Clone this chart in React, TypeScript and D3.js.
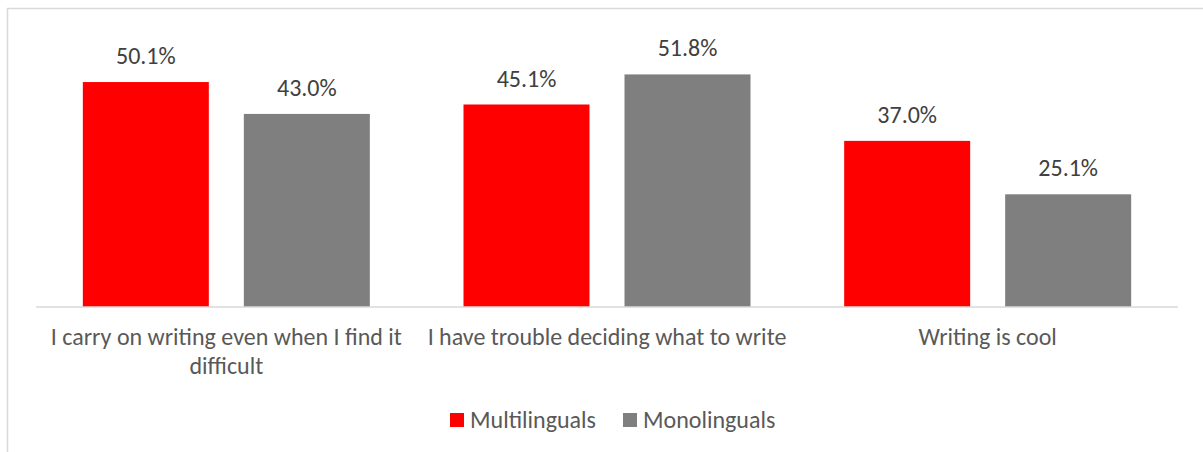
import React, { useEffect, useRef } from "react";
import * as d3 from "d3";

const categories = [
  "I carry on writing even when I find it difficult",
  "I have trouble deciding what to write",
  "Writing is cool",
];
const seriesNames = ["Multilinguals", "Monolinguals"];
const multilinguals = [50.1, 45.1, 37.0];
const monolinguals = [43.0, 51.8, 25.1];
const seriesColors = ["#FF0000", "#7F7F7F"];

const W = 1203;
const H = 452;
const FONT = "Carlito, Lato, sans-serif";
const FS = 24;

export default function App() {
  const ref = useRef<SVGSVGElement>(null);
  useEffect(() => {
    const svg = d3.select(ref.current);
    svg.selectAll("*").remove();

    svg
      .append("rect")
      .attr("x", 7.5)
      .attr("y", 8.5)
      .attr("width", 1200)
      .attr("height", 460)
      .attr("fill", "white")
      .attr("stroke", "#d9d9d9")
      .attr("stroke-width", 1.5);

    const x0 = d3.scaleBand().domain(categories).range([36, 1178]).paddingInner(0).paddingOuter(0);
    const outer = (x0.bandwidth() - 287) / 2;
    const x1 = d3
      .scaleBand()
      .domain(seriesNames)
      .range([outer, outer + 287])
      .paddingInner(35 / 161)
      .paddingOuter(0);
    const y = d3.scaleLinear().domain([0, 60]).range([307, 37.6]);

    const data = [multilinguals, monolinguals];

    const g = svg.append("g");
    categories.forEach((c, ci) => {
      seriesNames.forEach((s, si) => {
        const v = data[si][ci];
        const bx = (x0(c) as number) + (x1(s) as number);
        g.append("rect")
          .attr("x", bx)
          .attr("y", y(v))
          .attr("width", x1.bandwidth())
          .attr("height", y(0) - y(v))
          .attr("fill", seriesColors[si]);
        g.append("text")
          .attr("x", bx + x1.bandwidth() / 2)
          .attr("y", y(v) - 18)
          .attr("text-anchor", "middle")
          .attr("font-family", FONT)
          .attr("font-size", FS)
          .attr("fill", "#404040")
          .text(v.toFixed(1) + "%");
      });
    });

    // axis line
    svg
      .append("line")
      .attr("x1", 36)
      .attr("x2", 1178)
      .attr("y1", 307)
      .attr("y2", 307)
      .attr("stroke", "#d9d9d9")
      .attr("stroke-width", 1.5);

    // category labels with wrap
    categories.forEach((c) => {
      const cx = (x0(c) as number) + x0.bandwidth() / 2;
      const t = svg
        .append("text")
        .attr("text-anchor", "middle")
        .attr("font-family", FONT)
        .attr("font-size", FS)
        .attr("fill", "#595959");
      const words = c.split(" ");
      const maxW = 376;
      let line: string[] = [];
      let lineNo = 0;
      let ts = t.append("tspan").attr("x", cx).attr("y", 345);
      words.forEach((w) => {
        line.push(w);
        ts.text(line.join(" "));
        if ((ts.node() as SVGTSpanElement).getComputedTextLength() > maxW && line.length > 1) {
          line.pop();
          ts.text(line.join(" "));
          line = [w];
          lineNo++;
          ts = t.append("tspan").attr("x", cx).attr("y", 345 + lineNo * 29).text(w);
        }
      });
    });

    // legend
    const legend = svg.append("g");
    const items = [
      { name: seriesNames[0], color: seriesColors[0], x: 450 },
      { name: seriesNames[1], color: seriesColors[1], x: 623 },
    ];
    items.forEach((it) => {
      legend
        .append("rect")
        .attr("x", it.x)
        .attr("y", 413)
        .attr("width", 14)
        .attr("height", 14)
        .attr("fill", it.color);
      legend
        .append("text")
        .attr("x", it.x + 20)
        .attr("y", 428)
        .attr("font-family", FONT)
        .attr("font-size", FS)
        .attr("fill", "#595959")
        .text(it.name);
    });
  }, []);

  return (
    <svg
      ref={ref}
      width={W}
      height={H}
      style={{ position: "absolute", left: 0, top: 0, display: "block" }}
    />
  );
}
